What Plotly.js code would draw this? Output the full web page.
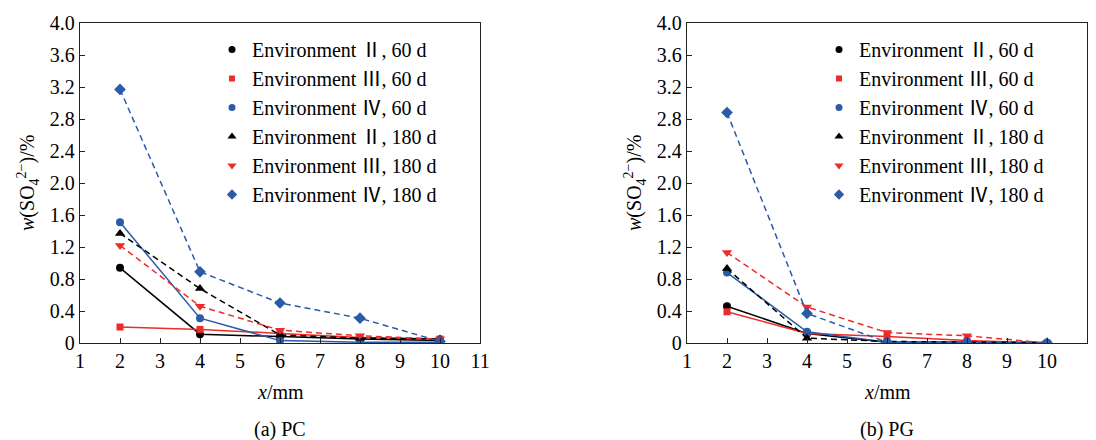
<!DOCTYPE html>
<html><head><meta charset="utf-8">
<script src="https://cdn.plot.ly/plotly-3.0.1.min.js"></script>
<style>html,body{margin:0;padding:0;background:#fff;}#chart{width:1096px;height:440px;}</style>
</head><body><div id="chart"></div>
<script>
const xVals = [2, 4, 6, 8, 10];
const seriesNames = ["Environment \u2161, 60 d","Environment \u2162, 60 d","Environment \u2163, 60 d","Environment \u2161, 180 d","Environment \u2162, 180 d","Environment \u2163, 180 d"];
// PC panel
const pcII60  = [0.94, 0.11, 0.08, 0.05, 0.03];
const pcIII60 = [0.20, 0.17, 0.12, 0.07, 0.05];
const pcIV60  = [1.51, 0.31, 0.03, 0.01, 0.01];
const pcII180 = [1.37, 0.68, 0.10, 0.06, 0.05];
const pcIII180= [1.22, 0.46, 0.16, 0.09, 0.05];
const pcIV180 = [3.17, 0.89, 0.50, 0.31, 0.02];
// PG panel
const pgII60  = [0.46, 0.12, 0.01, 0.01, 0.00];
const pgIII60 = [0.39, 0.12, 0.08, 0.03, 0.00];
const pgIV60  = [0.88, 0.14, 0.01, 0.01, 0.00];
const pgII180 = [0.93, 0.06, 0.02, 0.01, 0.01];
const pgIII180= [1.13, 0.45, 0.13, 0.09, 0.00];
const pgIV180 = [2.88, 0.37, 0.01, 0.01, 0.00];
const yTickVals = [0, 0.4, 0.8, 1.2, 1.6, 2.0, 2.4, 2.8, 3.2, 3.6, 4.0];
const yTickText = ["0","0.4","0.8","1.2","1.6","2.0","2.4","2.8","3.2","3.6","4.0"];
const xTickVals = [1,2,3,4,5,6,7,8,9,10,11];

const BLACK = "#000000", RED = "#ec2b2b", BLUE = "#2b5ba8";
const styles = [
  {color: BLACK, symbol: "circle", dash: "solid", size: 8},
  {color: RED, symbol: "square", dash: "solid", size: 7},
  {color: BLUE, symbol: "circle", dash: "solid", size: 8},
  {color: BLACK, symbol: "triangle-up", dash: "6px,4px", size: 9},
  {color: RED, symbol: "triangle-down", dash: "6px,4px", size: 9},
  {color: BLUE, symbol: "diamond", dash: "6px,4px", size: 9}
];
const pcData = [pcII60, pcIII60, pcIV60, pcII180, pcIII180, pcIV180];
const pgData = [pgII60, pgIII60, pgIV60, pgII180, pgIII180, pgIV180];

const traces = [];
function addPanel(data, xa, ya, leg) {
  data.forEach((ys, i) => {
    const s = styles[i];
    traces.push({x: xVals, y: ys, xaxis: xa, yaxis: ya, mode: "lines+markers", showlegend: false,
      line: {color: s.color, width: 1.5, dash: s.dash}, marker: {color: s.color, symbol: s.symbol, size: s.size}});
  });
  data.forEach((ys, i) => {
    const s = styles[i];
    traces.push({x: [null], y: [null], xaxis: xa, yaxis: ya, mode: "markers", name: seriesNames[i], legend: leg,
      marker: {color: s.color, symbol: s.symbol, size: s.size - 1}});
  });
}
addPanel(pcData, "x", "y", "legend");
addPanel(pgData, "x2", "y2", "legend2");

const W = 1096, H = 440;
const px = v => v / W, py = v => (H - v) / H;
const FAM = "'Liberation Serif', 'Times New Roman', 'Noto Sans CJK SC', serif";
const font = {family: FAM, size: 20, color: "#000"};
function xaxis(l, r, anchor) {
  return {domain: [px(l), px(r)], anchor: anchor, range: [1, 11], tickvals: xTickVals, ticks: "inside", ticklen: 5,
    tickcolor: "#222", showline: true, linecolor: "#222", linewidth: 1.2, mirror: true, showgrid: false, zeroline: false,
    tickfont: font, fixedrange: true};
}
function yaxis(anchor) {
  return {domain: [py(343), py(23)], anchor: anchor, range: [0, 4], tickvals: yTickVals, ticktext: yTickText, ticks: "inside", ticklen: 5,
    tickcolor: "#222", showline: true, linecolor: "#222", linewidth: 1.2, mirror: true, showgrid: false, zeroline: false,
    tickfont: font, fixedrange: true};
}
const legendBase = {font: {family: FAM, size: 20, color: "#000"}, bgcolor: "rgba(0,0,0,0)", borderwidth: 0,
  xanchor: "left", yanchor: "top", itemwidth: 30, tracegroupgap: 0};
const ytitle = "<i>w</i>(SO<sub>4</sub><sup>2\u2212</sup>)/%";
const tfont = {family: FAM, size: 20, color: "#000"};
function ann(text, x, y, angle) {
  return {text: text, x: px(x), y: py(y), xref: "paper", yref: "paper", xanchor: "center", yanchor: "middle",
    textangle: angle || 0, showarrow: false, font: tfont};
}
const layout = {
  width: W, height: H, margin: {l: 0, r: 0, t: 0, b: 0}, paper_bgcolor: "#fff", plot_bgcolor: "#fff",
  font: font,
  xaxis: xaxis(80, 480, "y"), yaxis: yaxis("x"),
  xaxis2: xaxis(687, 1087, "y2"), yaxis2: yaxis("x2"),
  legend: Object.assign({x: px(212), y: py(30)}, legendBase),
  legend2: Object.assign({x: px(819), y: py(30)}, legendBase),
  annotations: [
    ann(ytitle, 28, 183, -90),
    ann(ytitle, 635, 183, -90),
    ann("<i>x</i>/mm", 280, 392),
    ann("<i>x</i>/mm", 887, 392),
    ann("(a) PC", 280, 429),
    ann("(b) PG", 887, 429)
  ]
};
Plotly.newPlot("chart", traces, layout, {displayModeBar: false, staticPlot: true});
</script></body></html>
